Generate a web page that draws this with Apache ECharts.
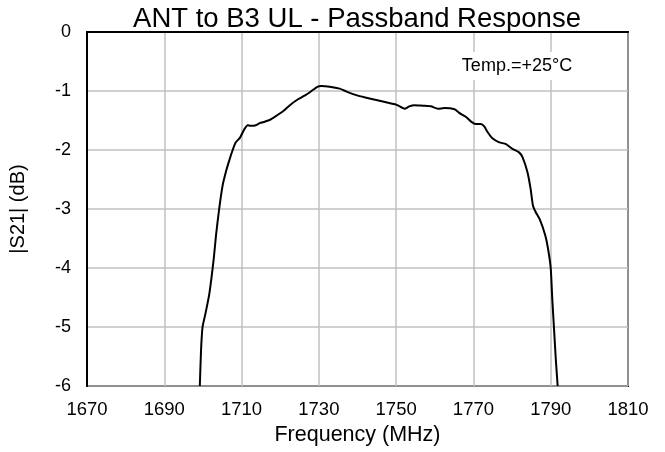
<!DOCTYPE html>
<html>
<head>
<meta charset="utf-8">
<script src="https://cdn.jsdelivr.net/npm/echarts@6/dist/echarts.min.js"></script>
<style>
  html, body { margin: 0; padding: 0; background: #fff; }
  #chart { width: 665px; height: 452px; }
</style>
</head>
<body>
<div id="chart"></div>
<script>
// passband trace
var freqMHz = [
    1699.2, 1699.5, 1699.9, 1700.6, 1701.6, 1702.2, 1702.8, 1703.4, 1704.2, 1705.1,
    1705.9, 1706.8, 1707.7, 1708.5, 1709.6, 1710.7, 1711.6, 1712.4, 1713.7, 1714.7,
    1716.0, 1717.3, 1719.0, 1720.8, 1722.5, 1724.6, 1726.3, 1728.1, 1729.6, 1730.6,
    1732.8, 1735.4, 1737.2, 1739.7, 1742.0, 1744.0, 1747.4, 1750.0, 1752.2, 1753.4,
    1754.7, 1756.9, 1759.0, 1760.8, 1762.5, 1765.1, 1766.3, 1768.1, 1769.4, 1770.6,
    1771.9, 1772.8, 1773.7, 1774.9, 1776.7, 1778.4, 1780.1, 1781.8, 1782.7, 1784.0,
    1784.8, 1785.4, 1786.1, 1787.2, 1788.6, 1789.3, 1790.0, 1790.4, 1790.9, 1791.3,
    1791.8
];
var s21dB = [
    -6.0, -5.41, -5.0, -4.79, -4.46, -4.17, -3.84, -3.44, -3.0, -2.6,
    -2.38, -2.18, -2.0, -1.87, -1.79, -1.65, -1.58, -1.59, -1.58, -1.545,
    -1.52, -1.49, -1.42, -1.34, -1.24, -1.14, -1.08, -1.0, -0.93, -0.916,
    -0.927, -0.96, -1.01, -1.07, -1.11, -1.14, -1.19, -1.23, -1.3, -1.26,
    -1.24, -1.25, -1.26, -1.3, -1.29, -1.31, -1.37, -1.44, -1.52, -1.56,
    -1.56, -1.6, -1.7, -1.8, -1.87, -1.9, -1.98, -2.04, -2.12, -2.38,
    -2.66, -2.94, -3.05, -3.18, -3.45, -3.67, -4.0, -4.52, -5.08, -5.53,
    -6.0
];
var xTicks = [1670, 1690, 1710, 1730, 1750, 1770, 1790, 1810];
var yTicks = [0, -1, -2, -3, -4, -5, -6];

var chart = echarts.init(document.getElementById("chart"));
var font = "Liberation Sans, Arial, sans-serif";

var trace = freqMHz.map(function (f, i) { return [f, s21dB[i]]; });

option = {
    animation: false,
    backgroundColor: "#fff",
    title: [{
        text: "ANT to B3 UL - Passband Response",
        left: 352, top: 0, textAlign: "center",
        textStyle: {fontFamily: font, fontSize: 27.5, fontWeight: "normal", color: "#000"}
    }, {
        text: "Temp.=+25°C",
        left: 511, top: 52, textAlign: "center",
        backgroundColor: "#fff",
        padding: [5, 6],
        textStyle: {fontFamily: font, fontSize: 18, fontWeight: "normal", color: "#000"}
    }],
    grid: {
        left: 87, right: 37, top: 32, bottom: 66,
        show: true, borderColor: "#000", borderWidth: 2
    },
    xAxis: {
        type: "value",
        min: xTicks[0], max: xTicks[xTicks.length - 1], interval: 20,
        name: "Frequency (MHz)", nameLocation: "middle", nameGap: 30,
        nameTextStyle: {fontFamily: font, fontSize: 21.5, color: "#000"},
        axisLine: {show: true, lineStyle: {color: "#000", width: 2}},
        axisTick: {show: false},
        axisLabel: {fontFamily: font, fontSize: 18.5, color: "#000", margin: 14,
            formatter: function (v) { return String(v); }},
        splitLine: {show: true, lineStyle: {color: "#c0c0c0", width: 1.5}}
    },
    yAxis: {
        type: "value",
        min: yTicks[yTicks.length - 1], max: yTicks[0], interval: 1,
        name: "|S21| (dB)", nameLocation: "middle", nameGap: 59, nameRotate: 90,
        nameTextStyle: {fontFamily: font, fontSize: 20, color: "#000"},
        axisLine: {show: true, lineStyle: {color: "#000", width: 2}},
        axisTick: {show: false},
        axisLabel: {fontFamily: font, fontSize: 18, color: "#000", margin: 16},
        splitLine: {show: true, lineStyle: {color: "#c0c0c0", width: 1.5}}
    },
    series: [{
        name: "S21",
        type: "line",
        data: trace,
        showSymbol: false,
        smooth: 0.2,
        clip: true,
        lineStyle: {color: "#000", width: 2}
    }]
};
chart.setOption(option, !0);
</script>
</body>
</html>
